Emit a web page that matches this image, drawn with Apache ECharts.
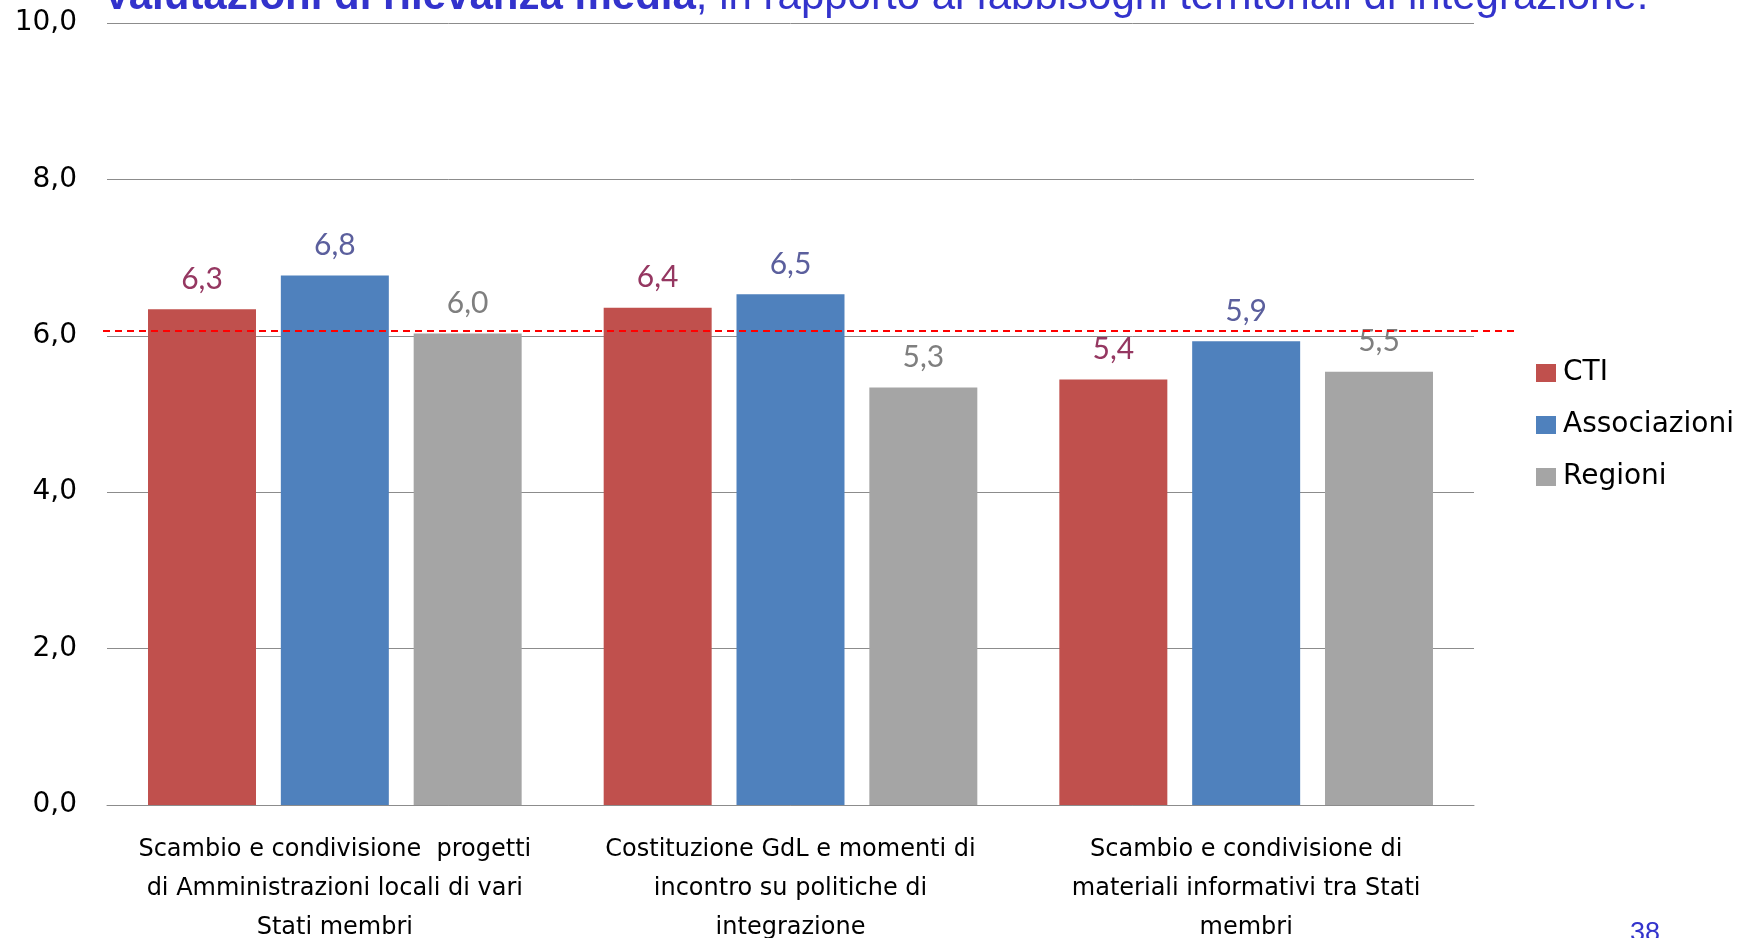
<!DOCTYPE html>
<html>
<head>
<meta charset="utf-8" />
<title>Valutazioni di rilevanza media</title>
<script src="https://cdn.jsdelivr.net/npm/echarts@6/dist/echarts.min.js"></script>
<style>
  html, body { margin: 0; padding: 0; background: #fff; overflow: hidden; }
  #main { width: 1758px; height: 938px; }
</style>
</head>
<body>
<div id="main"></div>
<script type="text/javascript">
// categorie (asse x)
var categorie = [
    'Scambio e condivisione  progetti\ndi Amministrazioni locali di vari\nStati membri',
    'Costituzione GdL e momenti di\nincontro su politiche di\nintegrazione',
    'Scambio e condivisione di\nmateriali informativi tra Stati\nmembri'
];
// valori per serie
var cti = [6.34, 6.36, 5.44];
var associazioni = [6.77, 6.53, 5.93];
var regioni = [6.03, 5.34, 5.54];
// linea di riferimento (tratteggiata rossa)
var soglia = [6.06, 6.06];
var yTicks = [0, 2, 4, 6, 8, 10];

var fmt = function (v) { return v.toFixed(1).replace('.', ','); };
var FONT = 'DejaVu Sans';

function serie(nome, dati, colore, coloreLabel) {
    return {
        name: nome,
        type: 'bar',
        data: dati,
        barGap: '23%',
        barCategoryGap: '18%',
        itemStyle: { color: colore },
        label: {
            show: true,
            position: 'top',
            distance: 15,
            color: coloreLabel,
            fontFamily: 'Lato',
            fontSize: 30,
            formatter: function (p) { return fmt(p.value); }
        }
    };
}

var option = {
    animation: false,
    title: [{
        left: 103,
        top: -24,
        padding: 0,
        text: '{b|Valutazioni di rilevanza media}{n|, in rapporto ai fabbisogni territoriali di integrazione.}',
        textStyle: {
            rich: {
                b: { fontFamily: 'Liberation Sans', fontWeight: 'bold', fontSize: 42, color: '#3333CC' },
                n: { fontFamily: 'Liberation Sans', fontWeight: 'normal', fontSize: 42, color: '#3333CC' }
            }
        }
    }, {
        left: 1630,
        top: 920,
        padding: 0,
        text: '38',
        textStyle: { fontFamily: 'Liberation Sans', fontWeight: 'normal', fontSize: 27, color: '#3333CC' }
    }],
    legend: {
        orient: 'vertical',
        left: 1531,
        top: 354,
        itemWidth: 20,
        itemHeight: 18,
        itemGap: 24,
        icon: 'rect',
        textStyle: { fontFamily: FONT, fontSize: 28, color: '#000', padding: [0, 0, 0, 2] },
        data: ['CTI', 'Associazioni', 'Regioni']
    },
    grid: [
        { left: 107, right: 284, top: 23, bottom: 133, outerBoundsMode: 'none' },
        { left: 103, right: 244, top: 23, bottom: 133, outerBoundsMode: 'none' }
    ],
    xAxis: [{
        type: 'category',
        gridIndex: 0,
        data: categorie,
        axisTick: { show: false },
        axisLine: { lineStyle: { color: '#8c8c8c', width: 1 } },
        axisLabel: {
            interval: 0,
            margin: 25,
            fontFamily: FONT,
            fontSize: 24,
            lineHeight: 39,
            color: '#000'
        }
    }, {
        type: 'value',
        gridIndex: 1,
        min: 0,
        max: 1,
        show: false
    }],
    yAxis: [{
        type: 'value',
        gridIndex: 0,
        min: yTicks[0],
        max: yTicks[yTicks.length - 1],
        interval: 2,
        axisLabel: {
            margin: 30,
            fontFamily: FONT,
            fontSize: 28,
            color: '#000',
            formatter: fmt
        },
        splitLine: { lineStyle: { color: '#8c8c8c', width: 1 } }
    }, {
        type: 'value',
        gridIndex: 1,
        min: 0,
        max: 10,
        show: false
    }],
    series: [
        serie('CTI', cti, '#C0504D', '#953761'),
        serie('Associazioni', associazioni, '#4F81BD', '#5B5F9D'),
        serie('Regioni', regioni, '#A5A5A5', '#7F7F7F'),
        {
            name: 'soglia',
            type: 'line',
            xAxisIndex: 1,
            yAxisIndex: 1,
            data: soglia.map(function (v, i) { return [i, v]; }),
            symbol: 'none',
            z: 5,
            silent: true,
            lineStyle: { color: '#FF0000', width: 2, type: [7, 5] }
        }
    ]
};

var myChart = echarts.init(document.getElementById('main'));
myChart.setOption(option);
</script>
</body>
</html>
